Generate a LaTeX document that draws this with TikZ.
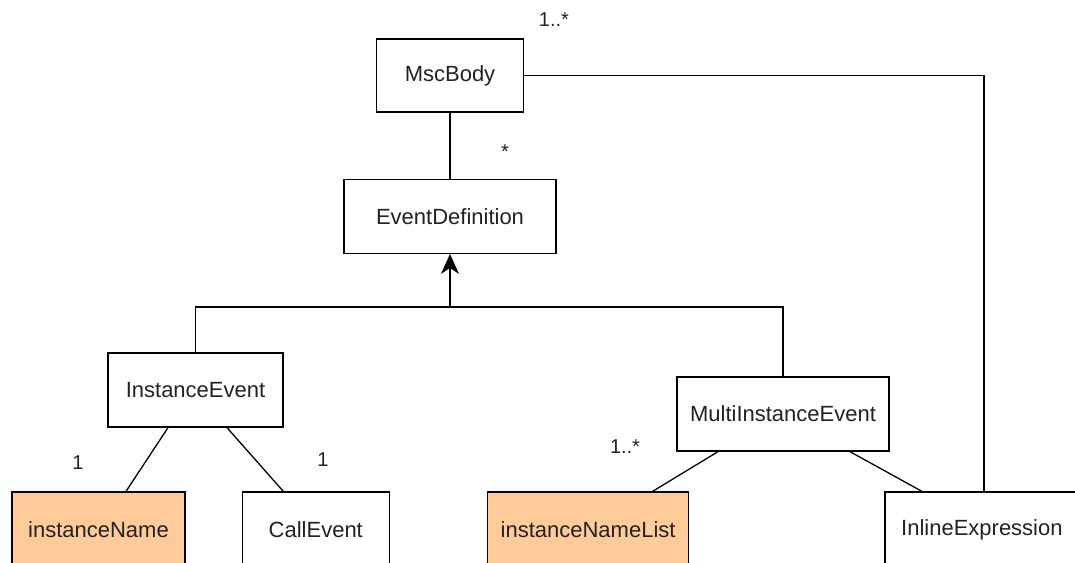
\documentclass[tikz,border=0pt]{standalone}
\usepackage{fontspec}
\setmainfont{Liberation Sans}
\usetikzlibrary{arrows.meta, positioning}
\definecolor{umlpeach}{RGB}{255,204,153}
\definecolor{umltext}{RGB}{34,34,34}

\begin{document}
\begin{tikzpicture}[
  node distance=66pt and 56pt,
  cls/.style={rectangle, draw=black, fill=white, line width=1.3pt, minimum height=74pt, align=center, font=\fontsize{22pt}{26pt}\selectfont, text=umltext, inner sep=0pt},
  attr/.style={cls, fill=umlpeach, minimum height=76pt},
  assoc/.style={line width=1.3pt},
  inherit/.style={line width=1.3pt, -{Stealth[length=20pt, width=18pt, inset=6pt]}},
  mult/.style={font=\fontsize{20pt}{24pt}\selectfont, text=umltext, inner sep=0pt}
]
\useasboundingbox (0,0) rectangle (1075pt,-562pt);

% Classes
\node[cls, minimum width=147pt, minimum height=73pt] (msc) at (450pt,-75.5pt) {MscBody};
\node[cls, minimum width=212pt, below=66pt of msc] (evd) {EventDefinition};
\node[cls, minimum width=175pt] (ie) at (195.5pt,-390pt) {InstanceEvent};
\node[cls, minimum width=212pt] (mie) at (783pt,-414pt) {MultiInstanceEvent};

% Leaves
\node[attr, minimum width=173pt] (iname) at (98.5pt,-530pt) {instanceName};
\node[cls, minimum width=147pt, minimum height=76pt, right=56pt of iname] (call) {CallEvent};
\node[attr, minimum width=201pt, right=97pt of call] (inlist) {instanceNameList};
\node[cls, minimum width=194pt, minimum height=76pt, right=195pt of inlist] (inl) {InlineExpression};

% Connectors
\draw[assoc] (msc) -- (evd);
\coordinate (hub) at ([yshift=-53pt]evd.south);
\draw[assoc] (ie.north) |- (hub) -| (mie.north);
\draw[inherit] (hub) -- (evd.south);
\draw[assoc] ([xshift=-27.5pt]ie.south) -- ([xshift=27.5pt]iname.north);
\draw[assoc] ([xshift=31.5pt]ie.south) -- ([xshift=-32.5pt]call.north);
\draw[assoc] ([xshift=-65pt]mie.south) -- ([xshift=64.5pt]inlist.north);
\draw[assoc] ([xshift=67pt]mie.south) -- ([xshift=-60pt]inl.north);
\draw[assoc] (msc.east) -| ([xshift=2pt]inl.north);

% Multiplicities
\node[mult] (m1) at (554pt,-20pt) {1..*};
\node[mult] (m2) at (505pt,-152pt) {*};
\node[mult] (m3) at (78pt,-463pt) {1};
\node[mult] (m4) at (323pt,-460pt) {1};
\node[mult] (m5) at (625pt,-447pt) {1..*};

\end{tikzpicture}
\end{document}
